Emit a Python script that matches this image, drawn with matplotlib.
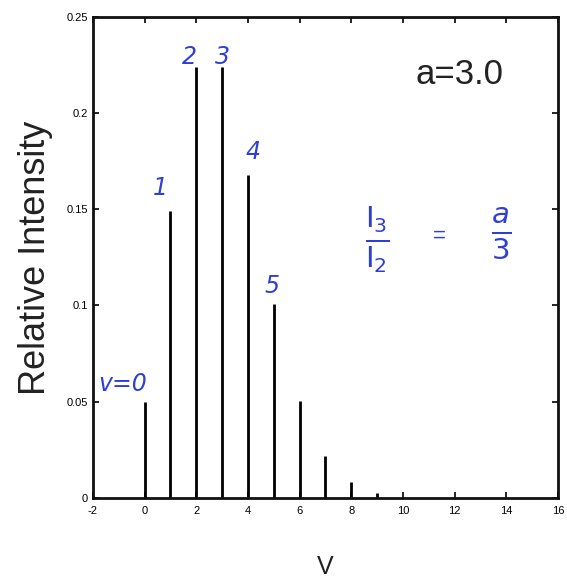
import matplotlib
matplotlib.use("Agg")
import matplotlib.pyplot as plt

# Poisson band intensities for a = 3.0
v = [0, 1, 2, 3, 4, 5, 6, 7, 8, 9]
intensity = [0.0498, 0.149, 0.224, 0.224, 0.168, 0.1008, 0.0504, 0.0216, 0.0081, 0.0027]

x_ticks = [-2, 0, 2, 4, 6, 8, 10, 12, 14, 16]
y_ticks = [0, 0.05, 0.1, 0.15, 0.2, 0.25]
y_tick_labels = ["0", "0.05", "0.1", "0.15", "0.2", "0.25"]

# pen annotations above the lines
pen_labels = ["v=0", "1", "2", "3", "4", "5"]
pen_x = [-0.85, 0.6, 1.75, 3.0, 4.2, 4.95]
pen_y = [0.059, 0.161, 0.229, 0.229, 0.180, 0.110]

plt.rcParams["font.family"] = ["Liberation Sans", "DejaVu Sans"]
plt.rcParams["axes.unicode_minus"] = False
blue = "#2f3fd6"

fig = plt.figure(figsize=(5.67, 5.85), dpi=100)
ax = fig.add_axes([0.164, 0.149, 0.820, 0.822])

ax.vlines(v, 0, intensity, color="black", lw=2.0)

ax.set_xlim(-2, 16)
ax.set_ylim(0, 0.25)
ax.set_xticks(x_ticks)
ax.set_yticks(y_ticks)
ax.set_yticklabels(y_tick_labels)
ax.tick_params(direction="in", length=4, width=1.2, labelsize=8,
               top=True, right=True)
ax.tick_params(axis="x", pad=6)
for s in ax.spines.values():
    s.set_linewidth(2.0)
    s.set_color("#111111")

ax.set_ylabel("Relative Intensity", fontsize=26, labelpad=10, color="#222222")
ax.set_xlabel("V", fontsize=18, labelpad=28, color="#222222")

ax.text(12.2, 0.22, "a=3.0", fontsize=25, ha="center", va="center", color="#222222")

for lab, xx, yy in zip(pen_labels, pen_x, pen_y):
    ax.text(xx, yy, lab, fontsize=17, ha="center", va="center",
            color=blue, style="italic", family="DejaVu Sans")

ax.text(9.0, 0.134, r"$\frac{\mathrm{I}_3}{\mathrm{I}_2}$", fontsize=30, ha="center", va="center", color=blue)
ax.text(11.4, 0.136, "=", fontsize=16, ha="center", va="center", color=blue)
ax.text(13.8, 0.137, r"$\frac{a}{3}$", fontsize=30, ha="center", va="center", color=blue)

fig.savefig("out.png", dpi=100, facecolor="white")
